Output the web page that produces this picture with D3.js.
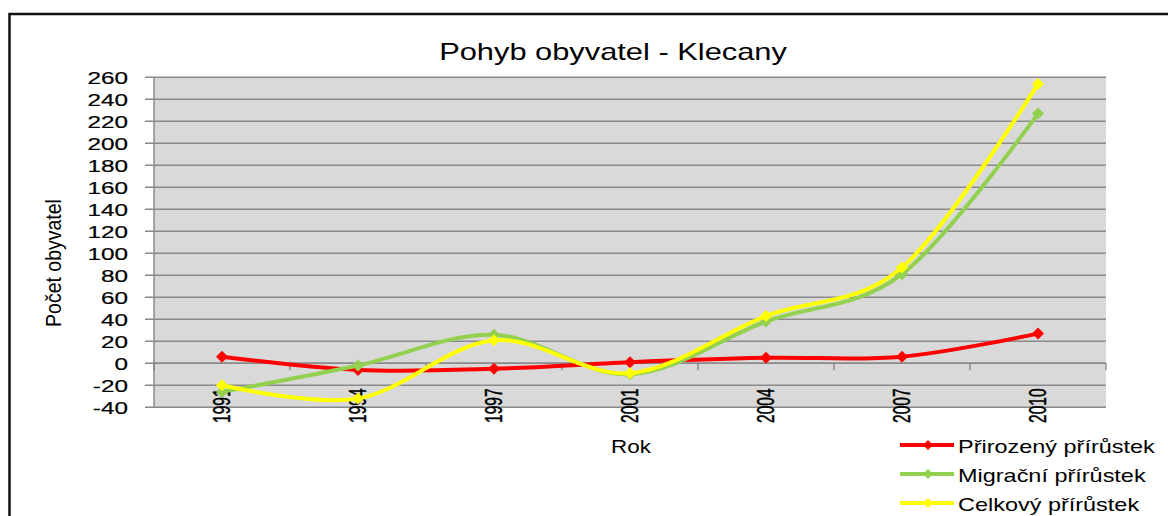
<!DOCTYPE html>
<html><head><meta charset="utf-8">
<script src="https://cdn.jsdelivr.net/npm/d3@7"></script>
<style>
html,body{margin:0;padding:0;background:#fff;}
svg{display:block;font-family:"Liberation Sans",Arial,sans-serif;}
</style></head>
<body><svg id="c" width="1168" height="516"></svg>
<script>
const years = ["1991","1994","1997","2001","2004","2007","2010"];
const prirozeny = [6,-6,-5,1,5,6,27];
const migracni = [-26,-2,26,-10,38,81,227];
const celkovy = [-20,-32,21,-9,43,87,254];
const yTicks = [-40,-20,0,20,40,60,80,100,120,140,160,180,200,220,240,260];
const seriesNames = ["Přirozený přírůstek","Migrační přírůstek","Celkový přírůstek"];
const seriesColors = ["#FF0000","#92D050","#FFFF00"];
const titleText = "Pohyb obyvatel - Klecany";
const yTitle = "Počet obyvatel";
const xTitle = "Rok";

const svg = d3.select("#c");
const L = 154, R = 1106, T = 77.3, B = 407.3;
const x = d3.scaleBand().domain(years).range([L, R]).padding(0);
const y = d3.scaleLinear().domain([-40, 260]).range([B, T]);

// outer border
svg.append("rect").attr("x", 9.5).attr("y", 14).attr("width", 1300).attr("height", 700)
  .attr("fill", "#fff").attr("stroke", "#111").attr("stroke-width", 2.5);

// plot background
svg.append("rect").attr("x", L).attr("y", T).attr("width", R - L).attr("height", B - T)
  .attr("fill", "#D9D9D9");

// gridlines
svg.append("g").selectAll("line").data(yTicks).join("line")
  .attr("x1", L - 9).attr("x2", R)
  .attr("y1", d => y(d)).attr("y2", d => y(d))
  .attr("stroke", "#8a8a8a").attr("stroke-width", 1.5);

// left axis line
svg.append("line").attr("x1", L).attr("x2", L).attr("y1", T).attr("y2", B)
  .attr("stroke", "#8a8a8a").attr("stroke-width", 1.5);

// x axis at 0 with boundary ticks
const bounds = years.map(d => x(d)).concat([R]);
svg.append("line").attr("x1", L).attr("x2", R).attr("y1", y(0)).attr("y2", y(0))
  .attr("stroke", "#8a8a8a").attr("stroke-width", 1.5);
svg.append("g").selectAll("line").data(bounds).join("line")
  .attr("x1", d => d).attr("x2", d => d)
  .attr("y1", y(0)).attr("y2", y(0) + 7)
  .attr("stroke", "#7a7a7a").attr("stroke-width", 1.2);

// y tick labels
const ySX = 1.43;
svg.append("g").selectAll("text").data(yTicks).join("text")
  .attr("transform", d => `translate(128,${y(d) + 6.2}) scale(${ySX},1)`)
  .attr("text-anchor", "end").attr("font-size", 17).attr("fill", "#000")
  .attr("stroke", "#000").attr("stroke-width", 0.2)
  .text(d => d);

// x tick labels (rotated)
svg.append("g").selectAll("text").data(years).join("text")
  .attr("transform", d => `translate(${x(d) + x.bandwidth() / 2},388.5) scale(1.5,1) rotate(-90)`)
  .attr("text-anchor", "end").attr("dy", "0.36em").attr("font-size", 15.5).attr("fill", "#000")
  .attr("stroke", "#000").attr("stroke-width", 0.3)
  .text(d => d);

// title
svg.append("text").attr("transform", "translate(613,60) scale(1.34,1)")
  .attr("text-anchor", "middle").attr("font-size", 23).attr("fill", "#000").text(titleText);

// axis titles
svg.append("text").attr("transform", "translate(53,263) scale(1.17,1) rotate(-90)")
  .attr("text-anchor", "middle").attr("dy", "0.36em").attr("font-size", 19.5).attr("fill", "#000").text(yTitle);
svg.append("text").attr("transform", "translate(631,452.7) scale(1.18,1)")
  .attr("text-anchor", "middle").attr("font-size", 19).attr("fill", "#000").text(xTitle);

// series
const seriesData = [prirozeny, migracni, celkovy];
const cx = i => x(years[i]) + x.bandwidth() / 2;
const line = d3.line().x((d, i) => cx(i)).y(d => y(d)).curve(d3.curveCardinal.tension(0));
const diamond = (px, py, r) => `M${px},${py - r}L${px + r},${py}L${px},${py + r}L${px - r},${py}Z`;

seriesData.forEach((vals, k) => {
  const g = svg.append("g");
  g.append("path").datum(vals).attr("d", line).attr("fill", "none")
    .attr("stroke", seriesColors[k]).attr("stroke-width", 4).attr("stroke-linejoin", "round");
  g.selectAll("path.m").data(vals).join("path").attr("class", "m")
    .attr("d", (d, i) => diamond(cx(i), y(d), 6)).attr("fill", seriesColors[k]);
});

// legend
const legY = [445, 474, 503];
const leg = svg.append("g");
seriesNames.forEach((n, k) => {
  leg.append("line").attr("x1", 900).attr("x2", 954).attr("y1", legY[k]).attr("y2", legY[k])
    .attr("stroke", seriesColors[k]).attr("stroke-width", 4);
  leg.append("path").attr("d", diamond(928, legY[k], 5)).attr("fill", seriesColors[k]);
  leg.append("text").attr("transform", `translate(958,${legY[k] + 8}) scale(1.34,1)`)
    .attr("font-size", 17.5).attr("fill", "#000").text(n);
});
</script></body></html>
